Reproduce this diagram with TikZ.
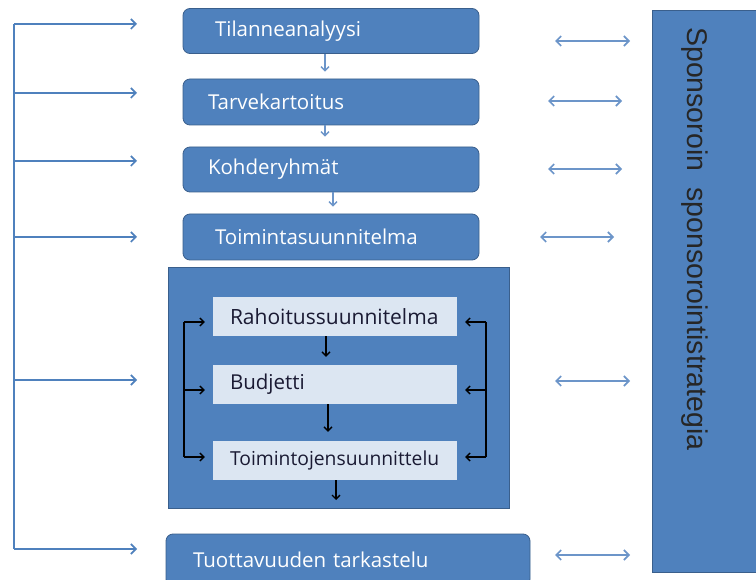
\documentclass[tikz,border=0pt]{standalone}
\usepackage{fontspec}
\setmainfont{Open Sans}
\newfontfamily\vfont{Liberation Sans}
\usetikzlibrary{arrows.meta}
\definecolor{ofblue}{HTML}{4F81BD}
\definecolor{ofdark}{HTML}{3A5F8C}
\definecolor{oflight}{HTML}{DCE6F2}
\definecolor{arblue}{HTML}{6C95C9}
\definecolor{txtdark}{HTML}{1A1A33}
\begin{document}
\begin{tikzpicture}[x=1pt,y=-1pt,
  bluebox/.style={draw=ofdark, line width=0.8pt, fill=ofblue, rounded corners=7pt,
    text=white, font=\fontsize{20.5}{24}\selectfont, align=left, inner ysep=0pt},
  lightbox/.style={fill=oflight, text=txtdark, font=\fontsize{20.5}{24}\selectfont,
    align=left, inner ysep=0pt, inner xsep=17pt, text width=210pt, minimum height=39pt},
  trunk/.style={draw=ofblue, line width=2pt},
  trunkarr/.style={draw=ofblue, line width=2pt, -{Straight Barb[length=5pt,width=10pt,line width=1.6pt]}},
  dblarr/.style={draw=arblue, line width=1.6pt, {Straight Barb[length=5pt,width=10pt]}-{Straight Barb[length=5pt,width=10pt]}},
  smallarr/.style={draw=arblue, line width=1.4pt, -{Straight Barb[length=4pt,width=8pt]}},
  blkarr/.style={draw=black, line width=1.3pt, -{Straight Barb[length=4pt,width=8pt]}},
  blk/.style={draw=black, line width=1.3pt}]
\clip (0,0) rectangle (756,580);
\fill[white] (0,0) rectangle (756,580);

% right tall box
\node[draw=ofdark, line width=0.8pt, fill=ofblue, minimum width=108pt, minimum height=562pt, inner sep=0pt, anchor=north west] (spons) at (652,10) {};
\node[rotate=-90, anchor=west, inner sep=0pt, font=\vfont\fontsize{28.5}{30}\selectfont, text=black!85] (sponstxt) at (695,27) {Sponsoroin\hspace{16pt}sponsorointistrategia};

% top boxes
\node[bluebox, minimum width=296pt, minimum height=45pt, inner xsep=32pt, text width=232pt] (b1) at (331,31) {Tilanneanalyysi};
\node[bluebox, minimum width=296pt, minimum height=46pt, inner xsep=25pt, text width=246pt] (b2) at (331,102) {Tarvekartoitus};
\node[bluebox, minimum width=296pt, minimum height=45pt, inner xsep=25pt, text width=246pt] (b3) at (331,169.5) {Kohderyhmät};
\node[bluebox, minimum width=296pt, minimum height=46pt, inner xsep=32pt, text width=232pt] (b4) at (331,237) {Toimintasuunnitelma};

% container
\node[draw=ofdark, line width=0.8pt, fill=ofblue, minimum width=341pt, minimum height=241pt, inner sep=0pt] (cont) at (338.5,387.5) {};
\node[lightbox, minimum width=244pt, font=\fontsize{21}{24}\selectfont] (rah) at (335,316.5) {Rahoitussuunnitelma};
\node[lightbox, minimum width=244pt] (bud) at (335,384.5) {Budjetti};
\node[lightbox, minimum width=244pt, font=\fontsize{19.3}{24}\selectfont] (toj) at (335,460.5) {Toimintojensuunnittelu};

% bottom box
\node[bluebox, minimum width=364pt, minimum height=52pt, inner xsep=27pt, text width=310pt] (b5) at (348,560) {Tuottavuuden tarkastelu};

% small arrows between top boxes
\draw[smallarr, shorten >=7pt] ([xshift=-6pt]b1.south) -- ([xshift=-6pt]b2.north);
\draw[smallarr, shorten >=10pt] ([xshift=-6pt]b2.south) -- ([xshift=-6pt]b3.north);
\draw[smallarr, shorten >=7pt] ([xshift=2pt]b3.south) -- ([xshift=2pt]b4.north);

% inner arrows
\draw[blkarr, shorten >=8pt] ([xshift=-9pt]rah.south) -- ([xshift=-9pt]bud.north);
\draw[blkarr, shorten >=9pt] ([xshift=-7pt]bud.south) -- ([xshift=-7pt]toj.north);
\coordinate (tojout) at (336,500);
\draw[blkarr] (toj.south -| tojout) -- (tojout);

% left bracket
\coordinate (lt) at (184,322);
\coordinate (lm) at (184,390);
\coordinate (lb) at (184,457);
\draw[blk] (lt) -- (lb);
\draw[blkarr, shorten >=8pt] (lt) -- (lt -| rah.west);
\draw[blkarr, shorten >=8pt] (lm) -- (lm -| bud.west);
\draw[blkarr, shorten >=8pt] (lb) -- (lb -| toj.west);
% right bracket
\coordinate (rt) at (486,322);
\coordinate (rm) at (486,390);
\coordinate (rb) at (486,457);
\draw[blk] (rt) -- (rb);
\draw[blkarr, shorten >=8pt] (rt) -- (rt -| rah.east);
\draw[blkarr, shorten >=8pt] (rm) -- (rm -| bud.east);
\draw[blkarr, shorten >=8pt] (rb) -- (rb -| toj.east);

% left trunk
\coordinate (t1) at (14,24);
\coordinate (t2) at (14,93);
\coordinate (t3) at (14,161);
\coordinate (t4) at (14,237);
\coordinate (t5) at (14,380);
\coordinate (t6) at (14,549);
\coordinate (e1) at (137,24);
\coordinate (e2) at (137,93);
\coordinate (e3) at (137,161);
\coordinate (e4) at (137,237);
\coordinate (e5) at (137,380);
\coordinate (e6) at (137,549);
\draw[trunk] (t1) -- (t6);
\foreach \i in {1,...,6} {\draw[trunkarr] (t\i) -- (e\i);}

% double arrows
\coordinate (d1a) at (555,41);  \coordinate (d1b) at (630,41);
\coordinate (d2a) at (548,101); \coordinate (d2b) at (622,101);
\coordinate (d3a) at (548,169); \coordinate (d3b) at (622,169);
\coordinate (d4a) at (540,237); \coordinate (d4b) at (614,237);
\coordinate (d5a) at (555,381); \coordinate (d5b) at (630,381);
\coordinate (d6a) at (555,555); \coordinate (d6b) at (630,555);
\foreach \i in {1,...,6} {\draw[dblarr] (d\i a) -- (d\i b);}
\end{tikzpicture}
\end{document}
